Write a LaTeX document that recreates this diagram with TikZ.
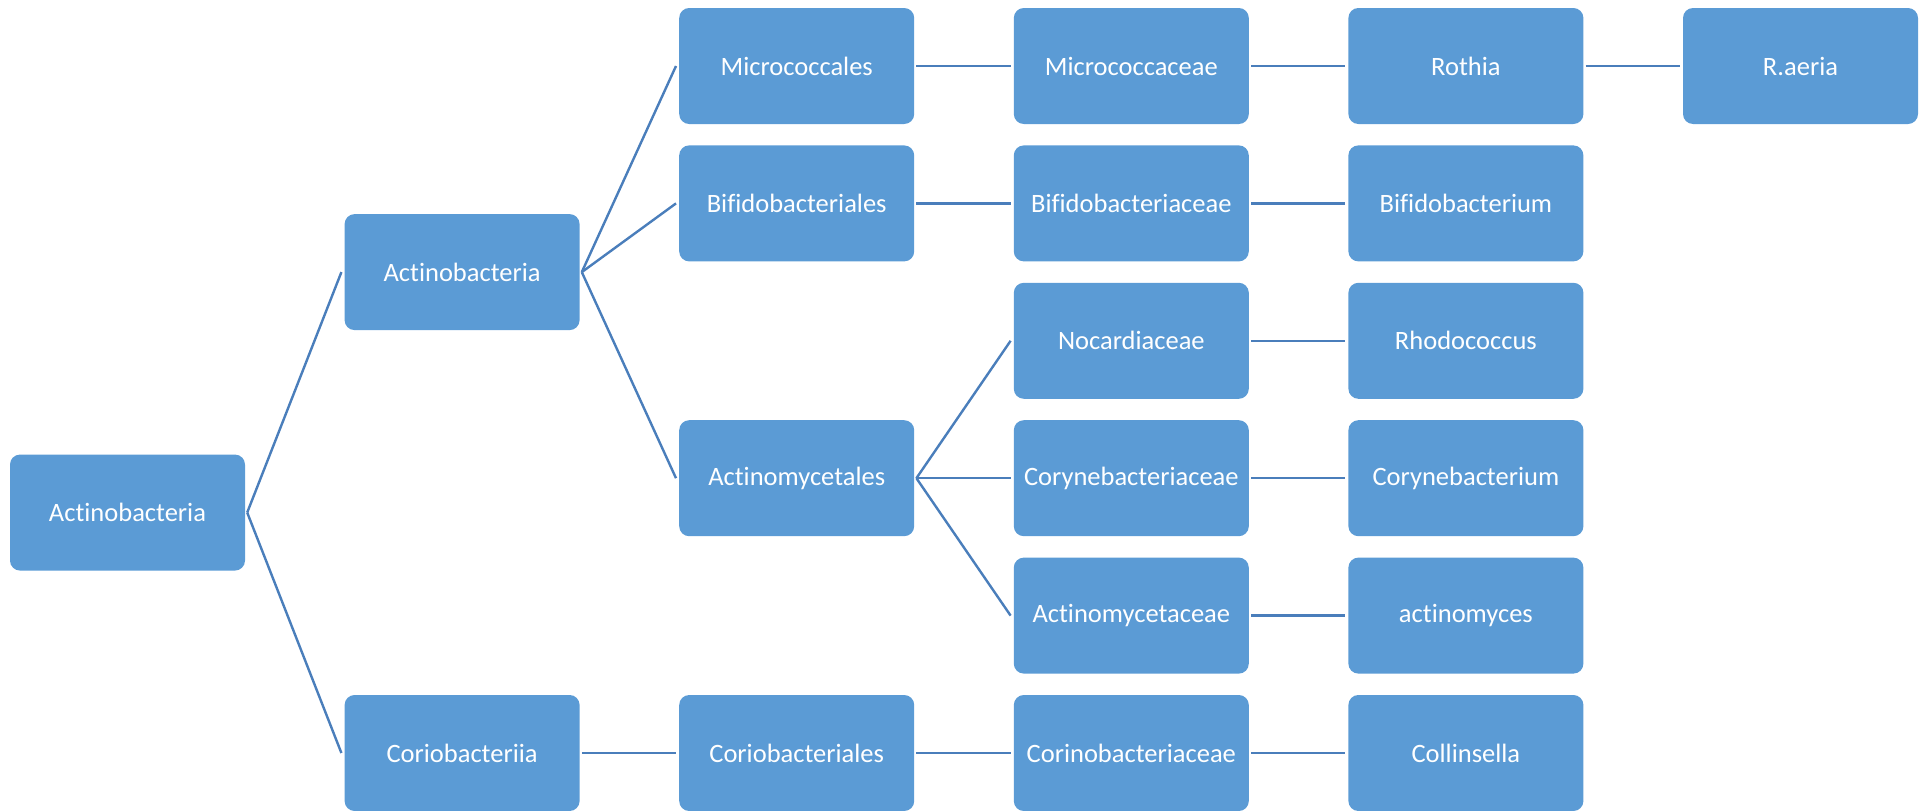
\documentclass[tikz,border=0pt]{standalone}
\usepackage{fontspec}
\setmainfont{Carlito}[Ligatures={NoCommon}]
\definecolor{boxblue}{HTML}{5B9BD5}
\definecolor{linkblue}{HTML}{4A7EBB}
\begin{document}
\begin{tikzpicture}[x=1pt,y=-1pt,
  taxon/.style={rectangle, rounded corners=10pt, fill=boxblue, text=white,
    minimum width=235pt, minimum height=116pt, inner sep=0pt,
    font=\fontsize{26.5}{32}\selectfont},
  link/.style={draw=linkblue, line width=2.4pt}]
\useasboundingbox (0,0) rectangle (1928,811);
% grid: column centre x = 127.5 + 334.6 i, row centre y = 66 + 137.4 j
\newcommand{\colx}[1]{127.5+334.6*#1}
\newcommand{\rowy}[1]{66+137.4*#1}
\node[taxon] (root) at ({\colx{0}},{\rowy{3.25}}) {Actinobacteria};
\node[taxon] (act)  at ({\colx{1}},{\rowy{1.5}}) {Actinobacteria};
\node[taxon] (cor)  at ({\colx{1}},{\rowy{5}}) {Coriobacteriia};
\node[taxon] (mcl)  at ({\colx{2}},{\rowy{0}}) {Micrococcales};
\node[taxon] (bfl)  at ({\colx{2}},{\rowy{1}}) {Bifidobacteriales};
\node[taxon] (aml)  at ({\colx{2}},{\rowy{3}}) {Actinomycetales};
\node[taxon] (crl)  at ({\colx{2}},{\rowy{5}}) {Coriobacteriales};
\node[taxon] (mcf)  at ({\colx{3}},{\rowy{0}}) {Micrococcaceae};
\node[taxon] (bff)  at ({\colx{3}},{\rowy{1}}) {Bifidobacteriaceae};
\node[taxon] (ncf)  at ({\colx{3}},{\rowy{2}}) {Nocardiaceae};
\node[taxon] (cyf)  at ({\colx{3}},{\rowy{3}}) {Corynebacteriaceae};
\node[taxon] (amf)  at ({\colx{3}},{\rowy{4}}) {Actinomycetaceae};
\node[taxon] (crf)  at ({\colx{3}},{\rowy{5}}) {Corinobacteriaceae};
\node[taxon] (rot)  at ({\colx{4}},{\rowy{0}}) {Rothia};
\node[taxon] (bfg)  at ({\colx{4}},{\rowy{1}}) {Bifidobacterium};
\node[taxon] (rhg)  at ({\colx{4}},{\rowy{2}}) {Rhodococcus};
\node[taxon] (cyg)  at ({\colx{4}},{\rowy{3}}) {Corynebacterium};
\node[taxon] (amg)  at ({\colx{4}},{\rowy{4}}) {actinomyces};
\node[taxon] (col)  at ({\colx{4}},{\rowy{5}}) {Collinsella};
\node[taxon] (rae)  at ({\colx{5}},{\rowy{0}}) {R.aeria};
% parent east side to child west side
\foreach \p/\c in {root/act, root/cor, act/mcl, act/bfl, act/aml,
    mcl/mcf, mcf/rot, rot/rae, bfl/bff, bff/bfg,
    aml/ncf, aml/cyf, aml/amf, ncf/rhg, cyf/cyg, amf/amg,
    cor/crl, crl/crf, crf/col}
  \draw[link] ([xshift=2pt]\p.east) -- ([xshift=-3pt]\c.west);
\end{tikzpicture}
\end{document}
